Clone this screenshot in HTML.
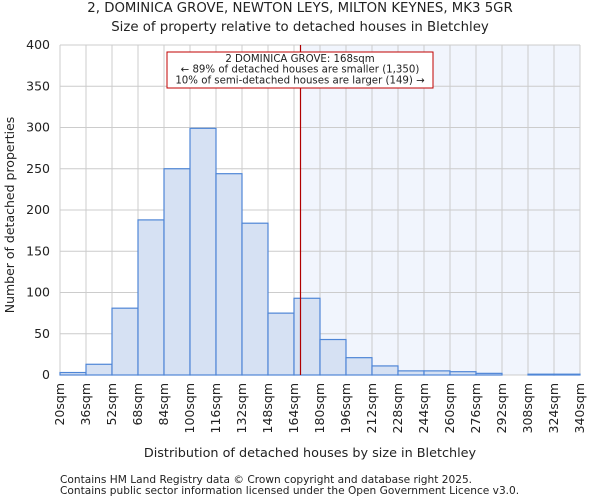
<!DOCTYPE html>
<html><head><meta charset="utf-8"><style>
body{margin:0;background:#fff;font-family:"DejaVu Sans","Liberation Sans",sans-serif;}
svg text{font-family:"DejaVu Sans","Liberation Sans",sans-serif;fill:#222;}
</style></head><body>
<svg id="chart" width="600" height="500" xmlns="http://www.w3.org/2000/svg">
<text x="300" y="12" text-anchor="middle" font-size="13.3">2, DOMINICA GROVE, NEWTON LEYS, MILTON KEYNES, MK3 5GR</text>
<text x="300" y="31" text-anchor="middle" font-size="13.3">Size of property relative to detached houses in Bletchley</text>
<g id="plot"></g>
<text x="310" y="457" text-anchor="middle" font-size="12.8">Distribution of detached houses by size in Bletchley</text>
<text transform="translate(14,215) rotate(-90)" text-anchor="middle" font-size="12.5">Number of detached properties</text>
<text x="60" y="483" font-size="10.6" fill="#444">Contains HM Land Registry data © Crown copyright and database right 2025.</text>
<text x="60" y="494" font-size="10.6" fill="#444">Contains public sector information licensed under the Open Government Licence v3.0.</text>
</svg>
<script>
const binStarts=[20,36,52,68,84,100,116,132,148,164,180,196,212,228,244,260,276,292,308,324];
const counts=[3,13,81,188,250,299,244,184,75,93,43,21,11,5,5,4,2,0,1,1];
const yTicks=[0,50,100,150,200,250,300,350,400];
const xTickLabels=["20sqm","36sqm","52sqm","68sqm","84sqm","100sqm","116sqm","132sqm","148sqm","164sqm","180sqm","196sqm","212sqm","228sqm","244sqm","260sqm","276sqm","292sqm","308sqm","324sqm","340sqm"];
const subjectSize=168;
const NS="http://www.w3.org/2000/svg";
const L=60,R=580,T=45,B=375,xMin=20,xMax=340,yMax=400;
const x=v=>L+(v-xMin)/(xMax-xMin)*(R-L);
const y=v=>B-v/yMax*(B-T);
const g=document.getElementById('plot');
function mk(t,a){const e=document.createElementNS(NS,t);for(const k in a)e.setAttribute(k,a[k]);g.appendChild(e);return e;}
let e=mk('rect',{x:x(subjectSize),y:T,width:R-x(subjectSize),height:B-T,fill:'#f1f5fd'});


yTicks.forEach(t=>{
 let l=mk('line',{x1:L,x2:R,y1:y(t),y2:y(t),stroke:'#ccc','stroke-width':1});
 
 
 let tx=mk('text',{x:L-10,y:y(t)+4,'text-anchor':'end','font-size':12.5});
 tx.textContent=t;
 
 
});
xTickLabels.forEach((s,i)=>{
 const v=xMin+i*16;
 let l=mk('line',{x1:x(v),x2:x(v),y1:T,y2:B,stroke:'#ccc','stroke-width':1});
 
 
 let tx=mk('text',{x:0,y:0,'text-anchor':'end','font-size':12.5,transform:`translate(${x(v)+4},${B+8}) rotate(-90)`});
 tx.textContent=s;
 
 
});
binStarts.forEach((s,i)=>{
 if(counts[i]<=0)return;
 let r=mk('rect',{x:x(s),y:y(counts[i]),width:x(s+16)-x(s),height:B-y(counts[i]),fill:'#d6e1f3',stroke:'#4f86d6','stroke-width':1.2});
 
 
});
let ml=mk('line',{x1:x(subjectSize),x2:x(subjectSize),y1:T,y2:B,stroke:'#b00000','stroke-width':1.2});


let box=mk('rect',{x:167,y:52,width:266,height:36,fill:'#fff',stroke:'#c00000','stroke-width':1});


["2 DOMINICA GROVE: 168sqm","← 89% of detached houses are smaller (1,350)","10% of semi-detached houses are larger (149) →"].forEach((s,i)=>{
 let t=mk('text',{x:300,y:62+i*10.7,'text-anchor':'middle','font-size':10.2});
 t.textContent=s;
 
 
});
</script>
</body></html>
